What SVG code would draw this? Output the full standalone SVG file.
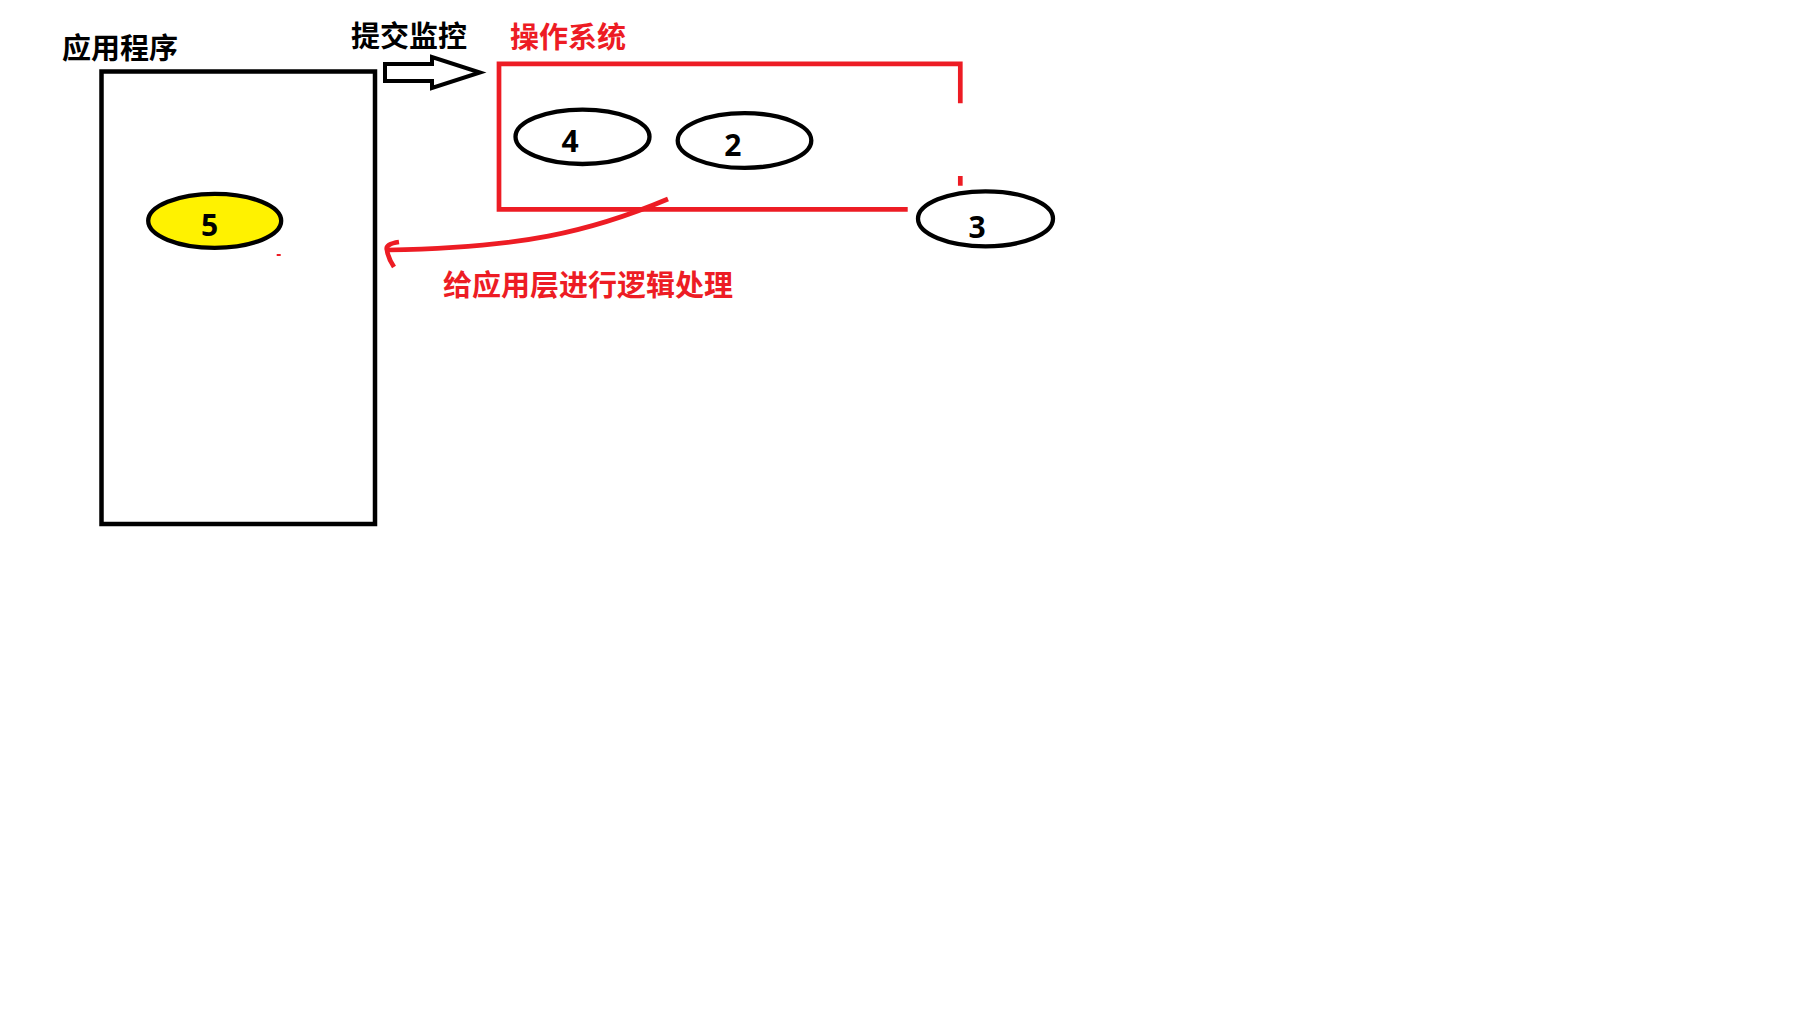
<svg xmlns="http://www.w3.org/2000/svg" width="1812" height="1020" viewBox="0 0 1812 1020">
<style>
.lbl{font-family:"Noto Sans CJK SC","Noto Sans",sans-serif;font-weight:700;font-size:29px}
.blk{fill:#000}
.red{fill:#ED1C24}
.num{font-family:"Open Sans","Liberation Sans",sans-serif;font-weight:700;font-size:30px;fill:#000;text-anchor:middle}
.ell{fill:#fff;stroke:#000;stroke-width:4.3}
.rl{fill:none;stroke:#ED1C24;stroke-width:4.7}
</style>
<rect width="1812" height="1020" fill="#fff"/>
<g id="app">
<rect x="101.5" y="71.5" width="273.5" height="452.5" fill="none" stroke="#000" stroke-width="4.5"/>
<text class="lbl blk" x="62" y="58.5">应用程序</text>
</g>
<g id="os">
<path class="rl" d="M907.7 209.3 H499 V63.8 H960.3 V103.3 M960.3 176 V185.7"/>
<text class="lbl red" x="510" y="48">操作系统</text>
</g>
<g id="n5">
<ellipse cx="214.7" cy="220.8" rx="66.5" ry="27" fill="#FFF200" stroke="#000" stroke-width="4.3"/>
<text class="num" x="209.5" y="236">5</text>
</g>
<g id="n4">
<ellipse class="ell" cx="582.5" cy="136.8" rx="67" ry="27.2"/>
<text class="num" x="570" y="151.7">4</text>
</g>
<g id="n2">
<ellipse class="ell" cx="744.5" cy="140.5" rx="66.8" ry="27.4"/>
<text class="num" x="732.8" y="156">2</text>
</g>
<g id="n3">
<ellipse class="ell" cx="985.5" cy="218.8" rx="67.5" ry="27.5"/>
<text class="num" x="977.2" y="238.3">3</text>
</g>
<g id="connectors">
<polygon points="385,64 432,64 432,57 480,72.5 432,88 432,81 385,81" fill="#fff" stroke="#000" stroke-width="4" stroke-linejoin="miter"/>
<text class="lbl blk" x="351" y="46.5">提交监控</text>
<path class="rl" d="M668 199 C590 232 520 248 388 250"/>
<path class="rl" d="M399 242 Q385 244 387 250 Q388 258 394 267"/>
<text class="lbl red" x="443" y="296">给应用层进行逻辑处理</text>
<rect x="276.7" y="254" width="4" height="2" fill="#ED1C24"/>
</g>
</svg>
